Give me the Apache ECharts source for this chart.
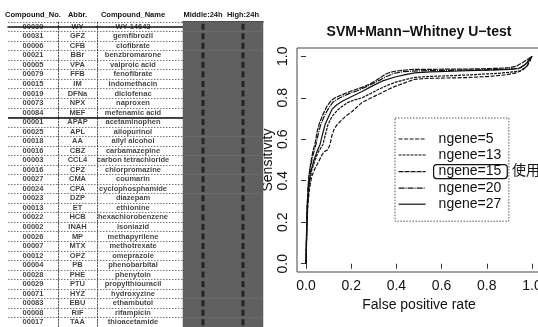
<!DOCTYPE html>
<html>
<head>
<meta charset="utf-8">
<script src="https://cdn.jsdelivr.net/npm/echarts@6.0.0/dist/echarts.min.js"></script>
<style>
html,body{margin:0;padding:0;background:#fff;}
#chart{width:538px;height:327px;}
</style>
</head>
<body>
<div id="chart"></div>
<script>
// ---------- table data ----------
const tableHeaders = ['Compound_No.', 'Abbr.', 'Compound_Name', 'Middle:24h', 'High:24h'];
const compoundNo = ['00030','00031','00006','00021','00005','00079','00015','00019','00073','00084',
  '00001','00025','00018','00016','00003','00016','00027','00024','00023','00013',
  '00022','00002','00026','00007','00012','00004','00028','00029','00071','00083','00008','00017'];
const abbr = ['WY','GFZ','CFB','BBr','VPA','FFB','IM','DFNa','NPX','MEF',
  'APAP','APL','AA','CBZ','CCL4','CPZ','CMA','CPA','DZP','ET',
  'HCB','INAH','MP','MTX','OPZ','PB','PHE','PTU','HYZ','EBU','RIF','TAA'];
const compoundName = ['WY-14643','gemfibrozil','clofibrate','benzbromarone','valproic acid','fenofibrate','indomethacin','diclofenac','naproxen','mefenamic acid',
  'acetaminophen','allopurinol','allyl alcohol','carbamazepine','carbon tetrachloride','chlorpromazine','coumarin','cyclophosphamide','diazepam','ethionine',
  'hexachlorobenzene','isoniazid','methapyrilene','methotrexate','omeprazole','phenobarbital','phenytoin','propylthiouracil','hydroxyzine','ethambutol','rifampicin','thioacetamide'];
const firstGroupSize = 10;
const middle24h = [1,1,1,1,1,1,1,1,1,1,1,1,1,1,1,1,1,1,1,1,1,1,1,1,1,1,1,1,1,1,1,1];
const high24h   = [1,1,1,1,1,1,1,1,1,1,1,1,1,1,1,1,1,1,1,1,1,1,1,1,1,1,1,1,1,1,1,1];

// ---------- ROC data [false positive rate, sensitivity] ----------
const rocNgene15 = [[0,0],[0.002,0.12],[0.004,0.25],[0.008,0.35],[0.012,0.42],[0.02,0.48],[0.03,0.54],[0.04,0.58],[0.05,0.64],[0.06,0.68],[0.075,0.72],[0.093,0.76],[0.11,0.785],[0.128,0.80],[0.16,0.815],[0.195,0.83],[0.22,0.84],[0.248,0.85],[0.28,0.865],[0.305,0.88],[0.33,0.898],[0.35,0.913],[0.37,0.922],[0.394,0.928],[0.44,0.934],[0.48,0.937],[0.55,0.937],[0.62,0.938],[0.7,0.938],[0.78,0.94],[0.85,0.942],[0.9,0.945],[0.93,0.952],[0.96,0.97],[0.98,0.985],[1,1]];
const rocNgene20 = [[0,0],[0.003,0.2],[0.006,0.3],[0.01,0.38],[0.018,0.46],[0.03,0.52],[0.045,0.58],[0.055,0.63],[0.065,0.67],[0.08,0.71],[0.1,0.75],[0.12,0.78],[0.15,0.80],[0.19,0.82],[0.23,0.835],[0.27,0.855],[0.31,0.875],[0.35,0.9],[0.39,0.918],[0.43,0.926],[0.5,0.93],[0.6,0.932],[0.7,0.933],[0.8,0.935],[0.88,0.938],[0.92,0.94],[0.95,0.945],[0.97,0.96],[1,1]];
const rocNgene27 = [[0,0],[0.003,0.18],[0.006,0.28],[0.012,0.37],[0.02,0.44],[0.035,0.5],[0.05,0.545],[0.062,0.575],[0.072,0.62],[0.084,0.67],[0.1,0.71],[0.115,0.744],[0.135,0.765],[0.16,0.783],[0.2,0.805],[0.248,0.83],[0.29,0.855],[0.336,0.88],[0.394,0.90],[0.44,0.912],[0.48,0.92],[0.55,0.925],[0.65,0.928],[0.75,0.932],[0.85,0.935],[0.9,0.937],[0.94,0.94],[0.97,0.96],[1,1]];
const rocNgene13 = [[0,0],[0.004,0.2],[0.008,0.3],[0.014,0.38],[0.025,0.45],[0.04,0.5],[0.055,0.54],[0.075,0.575],[0.085,0.62],[0.097,0.67],[0.115,0.71],[0.142,0.744],[0.165,0.762],[0.186,0.778],[0.215,0.79],[0.248,0.80],[0.285,0.82],[0.32,0.84],[0.36,0.86],[0.394,0.874],[0.44,0.888],[0.48,0.898],[0.55,0.903],[0.65,0.907],[0.75,0.912],[0.85,0.918],[0.92,0.925],[0.95,0.93],[0.975,0.95],[1,1]];
const rocNgene5 = [[0,0],[0.004,0.18],[0.008,0.28],[0.015,0.36],[0.025,0.42],[0.04,0.46],[0.055,0.49],[0.068,0.52],[0.08,0.54],[0.097,0.55],[0.106,0.575],[0.115,0.62],[0.125,0.65],[0.137,0.67],[0.16,0.695],[0.18,0.715],[0.204,0.734],[0.225,0.755],[0.248,0.778],[0.28,0.795],[0.32,0.816],[0.36,0.838],[0.394,0.855],[0.44,0.873],[0.48,0.889],[0.53,0.893],[0.6,0.895],[0.7,0.897],[0.8,0.902],[0.88,0.91],[0.93,0.92],[0.96,0.935],[0.98,0.955],[0.99,0.975],[1,1]];
const seriesNames = ['ngene=5','ngene=13','ngene=15','ngene=20','ngene=27'];
const axisTicks = [0, 0.2, 0.4, 0.6, 0.8, 1.0];

// ---------- build ----------
const nRows = compoundNo.length;
const rowCats = compoundNo.map((_, i) => String(i));
const FONT = '"Liberation Sans", Arial, sans-serif';
const INK = '#111';

const tableTop = 22, tableH = 305;
const colLayout = [
  {left: 8, width: 50},
  {left: 58, width: 39},
  {left: 97, width: 86},
  {left: 183, width: 80}
];

const grids = colLayout.map(c => ({left: c.left, width: c.width, top: tableTop, height: tableH, outerBoundsMode: 'none', containLabel: false}));
grids.push({left: 297, top: 48, width: 244, height: 224, show: true, borderColor: '#444', borderWidth: 1, outerBoundsMode: 'none', containLabel: false});

const xAxes = [], yAxes = [];
[0,1,2].forEach(i => {
  xAxes.push({gridIndex: i, type: 'category', position: 'top', data: [tableHeaders[i]],
    axisLine: {show: true, lineStyle: {color: INK, width: 1.5}}, axisTick: {show: false},
    axisLabel: {fontFamily: FONT, fontSize: 7.5, fontWeight: 'bold', color: INK, margin: 3,
      padding: i === 2 ? [0, 14, 0, 0] : 0}});
  yAxes.push({gridIndex: i, type: 'value', inverse: true, min: -0.5, max: nRows - 0.5, interval: 1,
    axisLabel: {show: false}, axisTick: {show: false},
    axisLine: {show: i > 0, lineStyle: {color: '#555', type: [1.5, 1.5], width: 1}},
    splitLine: {show: true, lineStyle: {color: '#777', type: [1.5, 1.5], width: 1}}});
});
xAxes.push({gridIndex: 3, type: 'category', position: 'top', data: [tableHeaders[3], tableHeaders[4]],
  axisLine: {show: true, lineStyle: {color: INK, width: 1.5}}, axisTick: {show: false},
  axisLabel: {fontFamily: FONT, fontSize: 7.5, fontWeight: 'bold', color: INK, margin: 3, interval: 0}});
yAxes.push({gridIndex: 3, type: 'category', inverse: true, data: rowCats,
  axisLabel: {show: false}, axisTick: {show: false}, axisLine: {show: false}, splitLine: {show: false}});

xAxes.push({gridIndex: 4, type: 'value', min: -0.04, max: 1.04,
  name: 'False positive rate', nameLocation: 'middle', nameGap: 22,
  nameTextStyle: {fontFamily: FONT, fontSize: 14, color: INK},
  axisLine: {show: false}, splitLine: {show: false},
  axisTick: {show: true, length: 5, customValues: axisTicks, lineStyle: {color: '#333'}},
  axisLabel: {customValues: axisTicks, formatter: v => v.toFixed(1), fontFamily: FONT, fontSize: 14, color: INK, margin: 7}});
yAxes.push({gridIndex: 4, type: 'value', min: -0.04, max: 1.04,
  name: 'Sensitivity', nameLocation: 'middle', nameGap: 22,
  nameTextStyle: {fontFamily: FONT, fontSize: 14, color: INK},
  axisLine: {show: false}, splitLine: {show: false},
  axisTick: {show: true, length: 5, customValues: axisTicks, lineStyle: {color: '#333'}},
  axisLabel: {customValues: axisTicks, formatter: v => v.toFixed(1), rotate: 90, fontFamily: FONT, fontSize: 14, color: INK, margin: 7}});

const sepLine = {silent: true, symbol: 'none', label: {show: false},
  lineStyle: {color: INK, width: 1.5, type: 'solid'},
  data: [{yAxis: firstGroupSize - 0.5}]};

function textSeries(i, texts, offset) {
  return {type: 'scatter', xAxisIndex: i, yAxisIndex: i, symbolSize: 0, silent: true, clip: false,
    data: texts.map((t, r) => ({value: [0, r], name: t})),
    label: {show: true, position: 'inside', formatter: '{b}', offset: offset || [0, 0],
      fontFamily: FONT, fontSize: 7.5, fontWeight: 'bold', color: INK},
    markLine: sepLine};
}

const heatData = [];
middle24h.forEach((v, r) => heatData.push([0, r, v]));
high24h.forEach((v, r) => heatData.push([1, r, v]));
const markData = [];
rowCats.forEach((_, r) => { markData.push([0, r]); markData.push([1, r]); });

const rocData = {'ngene=5': rocNgene5, 'ngene=13': rocNgene13, 'ngene=15': rocNgene15, 'ngene=20': rocNgene20, 'ngene=27': rocNgene27};
const dashes = {'ngene=5': [4, 1.5], 'ngene=13': [3, 1], 'ngene=15': [5, 1], 'ngene=20': [6, 1, 1, 1], 'ngene=27': 'solid'};

const series = [
  textSeries(0, compoundNo),
  textSeries(1, abbr),
  textSeries(2, compoundName, [-7, 0]),
  {type: 'heatmap', xAxisIndex: 3, yAxisIndex: 3, data: heatData, silent: true, itemStyle: {color: '#606060'}},
  {type: 'scatter', xAxisIndex: 3, yAxisIndex: 3, data: markData, symbol: 'rect', symbolSize: [3, 6], silent: true, itemStyle: {color: '#151515'}}
];
seriesNames.forEach(n => {
  series.push({type: 'line', name: n, xAxisIndex: 4, yAxisIndex: 4, data: rocData[n],
    symbol: 'none', showSymbol: false, smooth: false, silent: true,
    lineStyle: {color: INK, width: 1.2, type: dashes[n]}, itemStyle: {color: INK}});
});

const option = {
  animation: false,
  backgroundColor: '#fff',
  title: {text: 'SVM+Mann\u2212Whitney U\u2212test', left: 419, top: 25, padding: 0, textAlign: 'center',
    textStyle: {fontFamily: FONT, fontSize: 14, fontWeight: 'bold', color: INK}},
  visualMap: {show: false, seriesIndex: 3, dimension: 2, min: 0, max: 1, inRange: {color: ['#606060', '#606060']}},
  legend: {data: seriesNames, orient: 'vertical', left: 395, top: 118, padding: [14, 1, 10, 3],
    itemWidth: 27, itemHeight: 14, itemGap: 2, selectedMode: false,
    borderColor: '#555', borderWidth: 1, borderType: [1.5, 1.5],
    itemStyle: {color: 'transparent', borderWidth: 0, opacity: 0},
    lineStyle: {width: 1.2, color: INK},
    formatter: n => n === 'ngene=15' ? '{box|' + n + '}' : '{n|' + n + '}',
    textStyle: {fontFamily: FONT, fontSize: 14, color: INK, padding: [0, 0, 0, 3],
      rich: {
        n: {fontFamily: FONT, fontSize: 14, color: INK, lineHeight: 15, padding: [0, 0, 0, 5]},
        box: {fontFamily: FONT, fontSize: 14, color: INK, lineHeight: 15, padding: [0, 6, 0, 5],
          borderColor: INK, borderWidth: 1.2, borderRadius: 3}
      }}},
  graphic: [{type: 'text', left: 512, top: 163, silent: true,
    style: {text: '使用', font: '14px "Noto Sans CJK JP"', fill: INK}}],
  grid: grids,
  xAxis: xAxes,
  yAxis: yAxes,
  series: series
};

const chart = echarts.init(document.getElementById('chart'), null, {renderer: 'canvas'});
chart.setOption(option);
</script>
</body>
</html>
